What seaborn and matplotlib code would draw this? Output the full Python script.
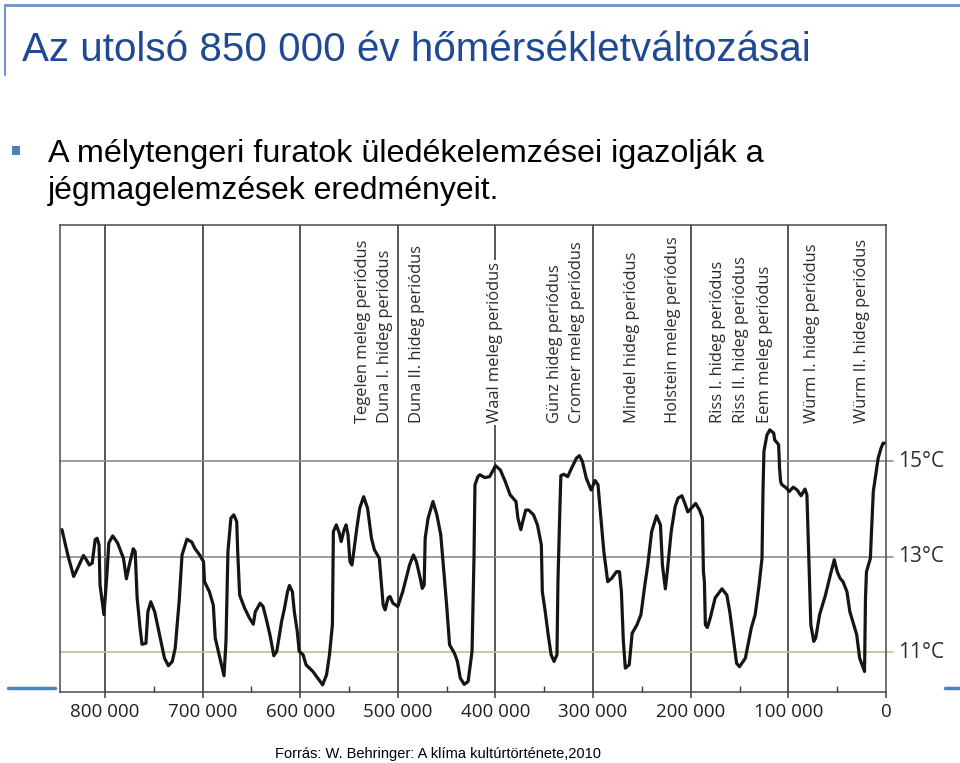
import matplotlib
matplotlib.use("Agg")
import matplotlib.pyplot as plt
import seaborn as sns
import pandas as pd
from matplotlib import font_manager as fm
from matplotlib.lines import Line2D
from matplotlib.patches import Rectangle
from matplotlib.ticker import FixedLocator, MultipleLocator, FixedFormatter

# ---------------- data ----------------
years_ago_k = [
    844, 838, 832, 828, 822, 819, 816, 813, 810, 808,
    806, 805, 801, 798, 796, 792, 787, 781, 778, 775,
    771, 769, 767, 764, 762, 758, 756, 753, 749, 744,
    739, 735, 731, 728, 724, 721, 716, 711, 708, 703,
    699, 698, 693, 689, 687, 683, 678, 676, 674, 671,
    668, 665, 664, 662, 657, 652, 648, 646, 641, 638,
    635, 631, 627, 624, 619, 616, 613, 611, 608, 606,
    603, 601, 597, 594, 587, 582, 577, 573, 570, 567,
    566, 563, 560, 558, 555, 553, 551, 549, 547, 546,
    542, 539, 535, 531, 527, 524, 519, 517, 515, 513,
    510, 508, 505, 500, 495, 488, 484, 481, 477, 475,
    473, 472, 469, 464, 460, 456, 454, 450, 447, 442,
    439, 436, 432, 428, 424, 422, 421, 418, 416, 411,
    406, 403, 400, 395, 390, 385, 379, 377, 374, 372,
    369, 366, 361, 357, 353, 352, 349, 346, 343, 340,
    337, 336, 334, 333, 330, 326, 322, 317, 314, 311,
    307, 302, 298, 295, 292, 289, 285, 281, 276, 273,
    271, 269, 267, 263, 260, 255, 251, 247, 244, 240,
    235, 231, 229, 226, 224, 220, 216, 213, 209, 206,
    203, 198, 195, 191, 188, 187, 186, 185, 183, 180,
    175, 168, 163, 160, 156, 153, 150, 144, 138, 134,
    130, 127, 126, 125, 122, 119, 115, 114, 110, 109,
    108, 107, 102, 99, 95, 91, 87, 83, 81, 79,
    77, 74, 72, 68, 62, 57, 53, 50, 47, 44,
    40, 37, 33, 30, 27, 22, 21, 20, 16, 15,
    13, 11, 8, 5, 3, 0,
]
temp_c = [
    13.57, 13.04, 12.59, 12.76, 13.03, 12.94, 12.83, 12.87, 13.36, 13.39,
    13.25, 12.41, 11.79, 12.62, 13.29, 13.44, 13.29, 12.97, 12.54, 12.83,
    13.17, 13.11, 12.14, 11.51, 11.17, 11.19, 11.85, 12.06, 11.85, 11.37,
    10.88, 10.72, 10.81, 11.09, 12.06, 13.04, 13.37, 13.31, 13.18, 13.04,
    12.90, 12.48, 12.27, 11.99, 11.30, 10.95, 10.51, 11.23, 13.11, 13.81,
    13.88, 13.74, 13.11, 12.20, 11.93, 11.72, 11.59, 11.85, 12.03, 11.96,
    11.72, 11.37, 10.93, 11.02, 11.65, 11.93, 12.27, 12.40, 12.27, 11.85,
    11.44, 11.02, 10.95, 10.74, 10.60, 10.46, 10.32, 10.53, 10.95, 11.58,
    13.53, 13.67, 13.50, 13.32, 13.57, 13.67, 13.46, 12.90, 12.83, 12.97,
    13.60, 14.02, 14.26, 14.02, 13.39, 13.15, 12.97, 12.48, 11.99, 11.89,
    12.14, 12.17, 12.03, 11.96, 12.27, 12.83, 13.04, 12.90, 12.55, 12.34,
    12.41, 13.39, 13.81, 14.16, 13.88, 13.46, 12.97, 11.99, 11.16, 10.98,
    10.81, 10.46, 10.33, 10.39, 11.02, 12.97, 14.51, 14.68, 14.72, 14.66,
    14.68, 14.79, 14.91, 14.82, 14.58, 14.30, 14.16, 13.81, 13.57, 13.74,
    13.98, 13.98, 13.88, 13.67, 13.25, 12.27, 11.85, 11.37, 10.95, 10.81,
    10.95, 12.48, 14.02, 14.70, 14.73, 14.68, 14.86, 15.07, 15.12, 15.00,
    14.65, 14.40, 14.60, 14.51, 13.81, 13.11, 12.48, 12.55, 12.69, 12.69,
    12.27, 11.23, 10.67, 10.74, 11.40, 11.58, 11.79, 12.41, 12.83, 13.53,
    13.86, 13.67, 12.83, 12.33, 12.69, 13.53, 14.05, 14.23, 14.28, 14.12,
    13.94, 14.05, 14.12, 13.98, 13.81, 12.69, 12.48, 11.58, 11.52, 11.72,
    12.14, 12.33, 12.20, 11.85, 11.23, 10.77, 10.70, 10.88, 11.51, 11.79,
    12.41, 12.97, 14.37, 15.21, 15.55, 15.66, 15.59, 15.45, 15.35, 14.86,
    14.59, 14.52, 14.44, 14.37, 14.46, 14.40, 14.28, 14.42, 14.30, 12.97,
    11.58, 11.23, 11.30, 11.79, 12.20, 12.62, 12.94, 12.69, 12.55, 12.48,
    12.27, 11.85, 11.58, 11.37, 10.88, 10.60, 12.14, 12.69, 12.97, 13.46,
    14.37, 14.65, 15.07, 15.28, 15.38, 15.38,
]

tick_years_k = [800, 700, 600, 500, 400, 300, 200, 100, 0]
tick_labels = ["800 000", "700 000", "600 000", "500 000", "400 000",
               "300 000", "200 000", "100 000", "0"]

ref_levels = [15, 13, 11]
ref_labels = ["15°C", "13°C", "11°C"]

period_names = [
    "Tegelen meleg periódus", "Duna I. hideg periódus", "Duna II. hideg periódus",
    "Waal meleg periódus", "Günz hideg periódus", "Cromer meleg periódus",
    "Mindel hideg periódus", "Holstein meleg periódus", "Riss I. hideg periódus",
    "Riss II. hideg periódus", "Eem meleg periódus", "Würm I. hideg periódus",
    "Würm II. hideg periódus",
]
period_years_k = [536, 513, 480, 400, 339, 316, 260, 218, 172, 148, 124, 76, 25]

title = "Az utolsó 850 000 év hőmérsékletváltozásai"
bullet_lines = ["A mélytengeri furatok üledékelemzései igazolják a",
                "jégmagelemzések eredményeit."]
source = "Forrás: W. Behringer: A klíma kultúrtörténete,2010"

# ---------------- style ----------------
sns.set_theme(style="white")


def has_font(name):
    try:
        fm.findfont(fm.FontProperties(family=name), fallback_to_default=False)
        return True
    except Exception:
        return False


slide_font = "Liberation Sans Narrow" if has_font("Liberation Sans Narrow") else "Liberation Sans"
chart_font = "Open Sans" if has_font("Open Sans") else "DejaVu Sans"
plt.rcParams["font.family"] = [chart_font, "DejaVu Sans"]

W, H = 960, 763
fig = plt.figure(figsize=(W / 100, H / 100), dpi=100)
fig.patch.set_facecolor("white")

ax = fig.add_axes([60 / W, 1 - 692 / H, 826 / W, 467 / H])
ax.set_facecolor("white")

df = pd.DataFrame({"years": years_ago_k, "temp": temp_c})
sns.lineplot(data=df, x="years", y="temp", sort=False, estimator=None,
             color="#151515", linewidth=2.3, ax=ax)

ax.set_xlim(846, 0)
ax.set_ylim(10.17, 19.95)
ax.set_xlabel("")
ax.set_ylabel("")

# vertical period grid at 100k steps
for v in tick_years_k[:-1]:
    ax.axvline(v, color="#3a3a3a", linewidth=1.2, zorder=1)

# reference temperature lines
ref_colors = ["#8c8c8c", "#8c8c8c", "#c8bb8a"]
for lvl, lab, c in zip(ref_levels, ref_labels, ref_colors):
    ax.axhline(lvl, xmin=0, xmax=1.008, color=c, linewidth=1.2, clip_on=False, zorder=1)
    ax.text(1.014, lvl, lab, transform=ax.get_yaxis_transform(), ha="left",
            va="center", fontsize=15, color="#2e2e2e")

# period labels
for name, yr in zip(period_names, period_years_k):
    kw = {}
    if name.startswith("Waal"):
        kw["bbox"] = dict(facecolor="white", edgecolor="none", pad=1.5)
    ax.text(yr, 15.81, name, rotation=90, ha="center", va="bottom",
            fontsize=11.9, color="#2b2b2b", zorder=3, **kw)

# axes ticks
ax.xaxis.set_major_locator(FixedLocator(tick_years_k))
ax.xaxis.set_major_formatter(FixedFormatter(tick_labels))
ax.xaxis.set_minor_locator(MultipleLocator(50))
ax.tick_params(axis="x", which="major", direction="out", length=4, width=1.1,
               color="#3a3a3a", labelsize=13.5, labelcolor="#1e1e1e", pad=4,
               bottom=True)
ax.tick_params(axis="x", which="minor", direction="in", length=4, width=1.0,
               color="#3a3a3a", bottom=True)
ax.set_yticks([])
for s in ax.spines.values():
    s.set_visible(True)
    s.set_color("#4a4a4a")
    s.set_linewidth(1.1)

# ---------------- slide texts ----------------
renderer = fig.canvas.get_renderer()


def fitted_text(x_px, y_px, s, target_w, size, **kw):
    t = fig.text(x_px / W, 1 - y_px / H, s, family=[slide_font, "DejaVu Sans"],
                 fontsize=size, **kw)
    w = t.get_window_extent(renderer).width
    t.set_fontsize(size * target_w / w)
    return t


fitted_text(22, 61, title, 786, 30, color="#1f4a93", va="baseline", ha="left")
fitted_text(48, 162, bullet_lines[0], 712, 22, color="#000000", va="baseline", ha="left")
fitted_text(48, 199, bullet_lines[1], 449, 22, color="#000000", va="baseline", ha="left")
fitted_text(275, 758, source, 325, 10, color="#000000", va="baseline", ha="left")

fig.patches.append(Rectangle((12 / W, 1 - 155 / H), 8 / W, 9 / H,
                             transform=fig.transFigure, facecolor="#4f81bd",
                             edgecolor="none"))

deco = "#6f94c6"
fig.lines.append(Line2D([5 / W, 1.0], [1 - 5 / H, 1 - 5 / H], transform=fig.transFigure,
                        color=deco, linewidth=2))
fig.lines.append(Line2D([5 / W, 5 / W], [1 - 5 / H, 1 - 75 / H], transform=fig.transFigure,
                        color=deco, linewidth=1.5))
fig.lines.append(Line2D([8 / W, 55 / W], [1 - 688 / H, 1 - 688 / H], transform=fig.transFigure,
                        color="#4f81bd", linewidth=2.5))
fig.lines.append(Line2D([945 / W, 1.0], [1 - 688 / H, 1 - 688 / H], transform=fig.transFigure,
                        color="#4f81bd", linewidth=2.5))

fig.savefig("out.png", dpi=100, facecolor="white")
